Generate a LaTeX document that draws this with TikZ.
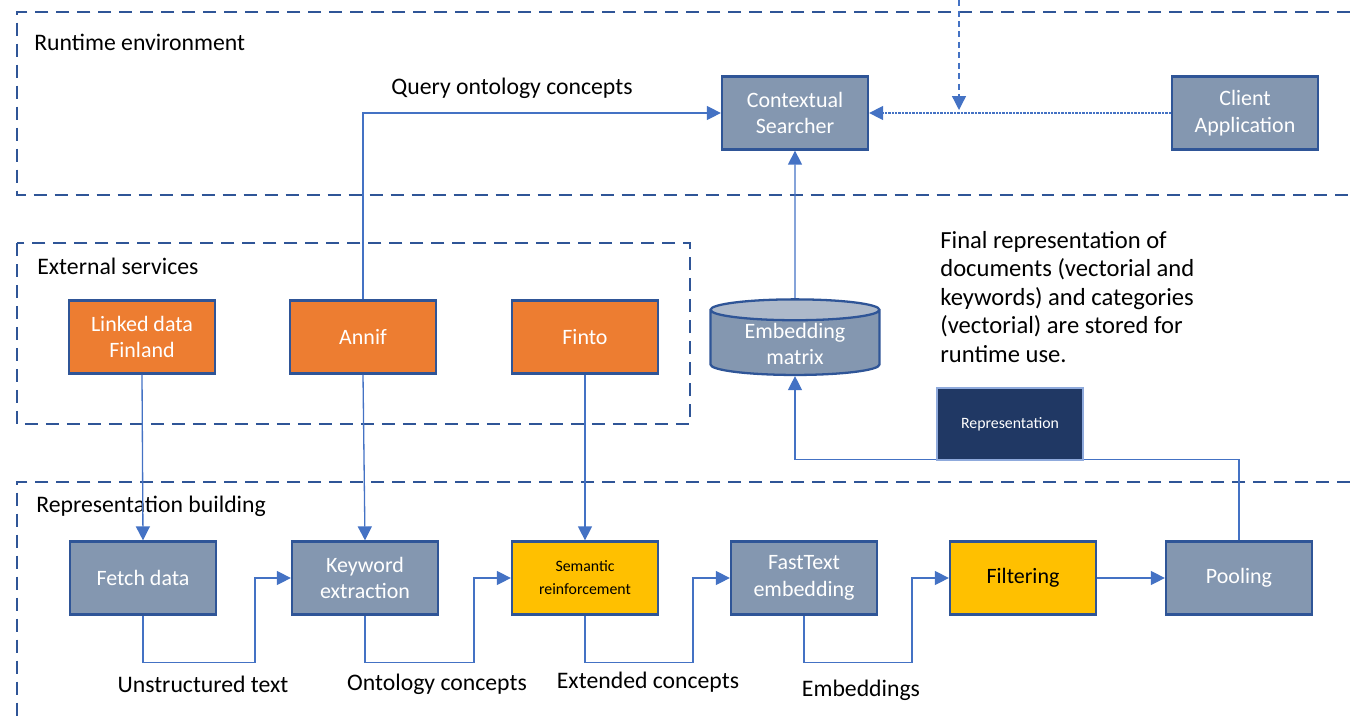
\documentclass[tikz,border=0pt]{standalone}
\usepackage{fontspec}
\setmainfont{Carlito}
\usetikzlibrary{arrows.meta,shapes.geometric}

\definecolor{boxgray}{HTML}{8497B0}
\definecolor{boxedge}{HTML}{2F5597}
\definecolor{linkblue}{HTML}{4472C4}
\definecolor{svcorange}{HTML}{ED7D31}
\definecolor{stepyellow}{HTML}{FFC000}
\definecolor{navyrep}{HTML}{203864}
\definecolor{cyltop}{HTML}{ADB9CA}

\begin{document}
\begin{tikzpicture}[x=0.02cm,y=-0.02cm]
\tikzset{
  procbox/.style={rectangle,draw=boxedge,line width=1.3pt,fill=boxgray,minimum width=2.92cm,minimum height=1.46cm,align=center,text=white,font=\fontsize{12.5}{15}\selectfont},
  svcbox/.style={procbox,fill=svcorange},
  hilite/.style={procbox,fill=stepyellow,text=black},
  groupline/.style={draw=boxedge,line width=1.5pt,dash pattern=on 2.6mm off 1.6mm},
  conn/.style={draw=linkblue,line width=0.75pt,-{Triangle[length=2.8mm,width=2.8mm]}},
  plain/.style={draw=linkblue,line width=0.75pt},
  grouplabel/.style={font=\fontsize{13.5}{16}\selectfont,anchor=west,inner sep=0pt},
  flowlabel/.style={font=\fontsize{13.5}{16}\selectfont,inner sep=0pt}
}
\useasboundingbox (0,0) rectangle (1350,721);

% groups
\draw[groupline] (1350,12) -- (17,12) -- (17,195) -- (1350,195);
\draw[groupline] (17,243) rectangle (690,424);
\draw[groupline] (1350,482) -- (17,482) -- (17,721);
\node[grouplabel] (l_runtime) at (34,42) {Runtime environment};
\node[grouplabel] (l_external) at (37,266) {External services};
\node[grouplabel] (l_building) at (36,506) {Representation building};

% runtime
\node[procbox] (n_ctx) at (795,113) {Contextual\\Searcher};
\node[procbox] (n_client) at (1245,113) {Client\\Application};
\node[cylinder,shape border rotate=90,aspect=0.2,draw=boxedge,line width=1.3pt,
  cylinder uses custom fill,cylinder body fill=boxgray,cylinder end fill=cyltop,
  minimum width=3.38cm,minimum height=1.44cm,inner sep=1pt,align=center,text=white,
  font=\fontsize{12.5}{15}\selectfont] (n_emb) at (795,344) {Embedding\\matrix};
\node[flowlabel] (l_query) at (512,88) {Query ontology concepts};
\node[font=\fontsize{14}{16.2}\selectfont,align=left,anchor=north west,inner sep=0pt] (l_final) at (940,231)
  {Final representation of\\documents (vectorial and\\keywords) and categories\\(vectorial) are stored for\\runtime use.};

% external services
\node[svcbox] (n_ldf) at (142,337) {Linked data\\Finland};
\node[svcbox] (n_annif) at (363,337) {Annif};
\node[svcbox] (n_finto) at (585,337) {Finto};

% representation building
\node[procbox] (n_fetch) at (143,578) {Fetch data};
\node[procbox] (n_kw) at (365,578) {Keyword\\extraction};
\node[hilite,font=\fontsize{9}{13}\selectfont] (n_sem) at (585,578) {Semantic\\reinforcement};
\node[procbox] (n_fast) at (804,578) {FastText\\embedding};
\node[hilite] (n_filt) at (1023,578) {Filtering};
\node[procbox] (n_pool) at (1239,578) {Pooling};

\node[flowlabel] (l_unstr) at (203,684) {Unstructured text};
\node[flowlabel] (l_onto) at (437,684) {Ontology concepts};
\node[flowlabel] (l_ext) at (648,682) {Extended concepts};
\node[flowlabel] (l_emb) at (861,690) {Embeddings};

% connectors
\coordinate (c_top) at (959,0);
\coordinate (c_hit) at (959,110);
\draw[conn,dash pattern=on 1.2mm off 0.9mm] (c_top) -- (c_hit);
\draw[conn,dash pattern=on 0.4pt off 0.4pt] (n_client.west) -- (n_ctx.east);
\draw[conn] (n_annif.north) |- (n_ctx.west);
\draw[conn] (n_emb.north) -- (n_ctx.south);
\draw[conn] (n_ldf.south) -- (n_fetch.north);
\draw[conn] (n_annif.south) -- (n_kw.north);
\draw[conn] (n_finto.south) -- (n_sem.north);
\draw[conn] (n_fetch.south) -- ++(0,47) -| ([xshift=-0.72cm]n_kw.west) -- (n_kw.west);
\draw[conn] (n_kw.south) -- ++(0,47) -| ([xshift=-0.74cm]n_sem.west) -- (n_sem.west);
\draw[conn] (n_sem.south) -- ++(0,47) -| ([xshift=-0.74cm]n_fast.west) -- (n_fast.west);
\draw[conn] (n_fast.south) -- ++(0,47) -| ([xshift=-0.74cm]n_filt.west) -- (n_filt.west);
\draw[conn] (n_filt.east) -- (n_pool.west);
\draw[conn] (n_pool.north) -- ++(0,-81) -| (n_emb.south);
\node[rectangle,fill=navyrep,draw=linkblue!60,line width=0.8pt,minimum width=2.92cm,minimum height=1.44cm,
  text=white,font=\fontsize{9}{11}\selectfont] (n_rep) at (1010,424) {Representation};
\end{tikzpicture}
\end{document}
